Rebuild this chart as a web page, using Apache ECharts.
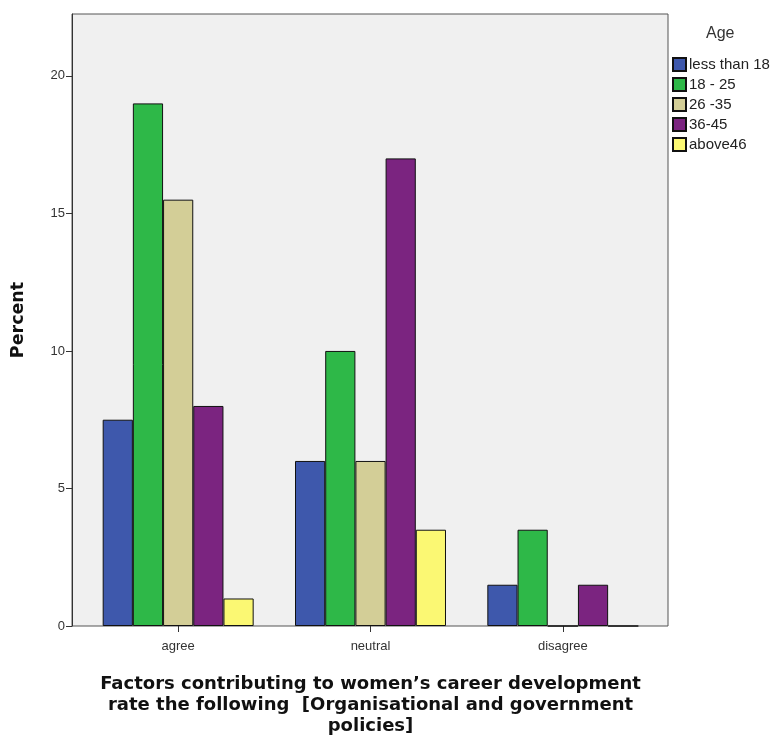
<!DOCTYPE html>
<html><head><meta charset="utf-8">
<script src="https://cdn.jsdelivr.net/npm/echarts@6/dist/echarts.min.js"></script>
<style>html,body{margin:0;padding:0;background:#fff}#c{width:774px;height:736px}</style>
</head><body><div id="c"></div>
<script>
const categories = ['agree', 'neutral', 'disagree'];
const seriesNames = ['less than 18', '18 - 25', '26 -35', '36-45', 'above46'];
const lessThan18 = [7.5, 6, 1.5];
const age18to25 = [19, 10, 3.5];
const age26to35 = [15.5, 6, 0];
const age36to45 = [8, 17, 1.5];
const above46 = [1, 3.5, 0];
const yTicks = [0, 5, 10, 15, 20];
const colors = ['#3E58AC', '#2EB848', '#D3CE97', '#7B2480', '#FBF873'];

const values = [lessThan18, age18to25, age26to35, age36to45, above46];
const font = '"Liberation Sans", Arial, sans-serif';
const boldFont = '"DejaVu Sans", sans-serif';

const chart = echarts.init(document.getElementById('c'));
chart.setOption({
  animation: false,
  title: {text: 'Age', left: 706, top: 26, padding: 0, textStyle: {fontFamily: font, fontSize: 16, fontWeight: 'normal', color: '#333'}},
  legend: {
    orient: 'vertical', left: 672, top: 57, padding: 0, itemWidth: 13, itemHeight: 13, itemGap: 5,
    icon: 'rect', data: seriesNames,
    textStyle: {fontFamily: font, fontSize: 15, color: '#222', padding: [0, 0, 0, -2]}
  },
  grid: [
    {left: 72, top: 14, width: 596, height: 612, outerBoundsMode: 'none', containLabel: false,
     show: true, backgroundColor: '#F0F0F0', borderColor: '#555', borderWidth: 1},
    {left: 82, top: 14, width: 577, height: 612, outerBoundsMode: 'none', containLabel: false}
  ],
  xAxis: [
    {type: 'category', gridIndex: 0, data: categories, show: false},
    {type: 'category', gridIndex: 1, data: categories,
     axisLine: {show: false},
     axisTick: {show: true, alignWithLabel: true, length: 6, lineStyle: {color: '#333'}},
     axisLabel: {fontFamily: font, fontSize: 13, color: '#333', margin: 14},
     name: 'Factors contributing to women\u2019s career development\nrate the following  [Organisational and government\npolicies]',
     nameLocation: 'middle', nameGap: 48,
     nameTextStyle: {fontFamily: boldFont, fontSize: 18, fontWeight: 'bold', color: '#111', lineHeight: 21, verticalAlign: 'top'}
    }
  ],
  yAxis: [
    {type: 'value', gridIndex: 0, min: 0, max: 22.25,
     axisLine: {show: true, lineStyle: {color: '#333'}},
     axisTick: {show: true, length: 6, customValues: yTicks, lineStyle: {color: '#333'}},
     axisLabel: {fontFamily: font, fontSize: 13, color: '#333', customValues: yTicks, margin: 7},
     splitLine: {show: false},
     name: 'Percent', nameLocation: 'middle', nameGap: 45, nameRotate: 90,
     nameTextStyle: {fontFamily: boldFont, fontSize: 17.5, fontWeight: 'bold', color: '#111'}
    },
    {type: 'value', gridIndex: 1, min: 0, max: 22.25, show: false, splitLine: {show: false}}
  ],
  series: seriesNames.map((n, i) => ({
    name: n, type: 'bar', xAxisIndex: 1, yAxisIndex: 1,
    data: values[i], barGap: '0%', barCategoryGap: '21.5%',
    itemStyle: {color: colors[i], borderColor: '#111', borderWidth: 1}
  }))
});
</script></body></html>
